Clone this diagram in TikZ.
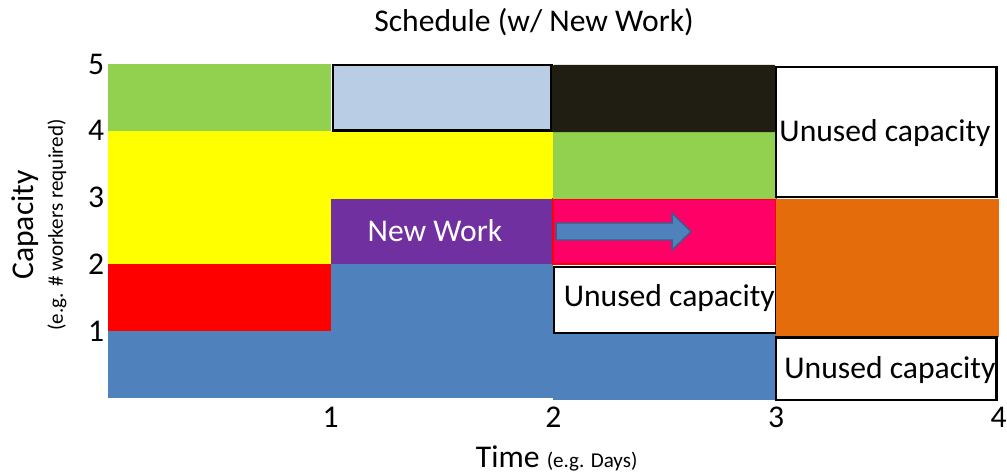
\documentclass[tikz,border=0pt]{standalone}
\usepackage{fontspec}
\setmainfont{Carlito}
\definecolor{cgreen}{HTML}{92D050}
\definecolor{cyellow}{HTML}{FFFF00}
\definecolor{cred}{HTML}{FF0000}
\definecolor{cblue}{HTML}{4F81BD}
\definecolor{clightblue}{HTML}{B9CDE5}
\definecolor{cpurple}{HTML}{7030A0}
\definecolor{cdark}{HTML}{201D12}
\definecolor{cpink}{HTML}{FF0066}
\definecolor{corange}{HTML}{E46C0A}
\definecolor{carrow}{HTML}{385D8A}
\tikzset{
  big/.style={font=\fontsize{18}{22}\selectfont},
  small/.style={font=\fontsize{12}{14}\selectfont},
  unused/.style={fill=white, draw=black, line width=1.6pt},
}
\begin{document}
\begin{tikzpicture}[x=4.454cm, y=1.336cm]
\useasboundingbox (-0.485,-1.153) rectangle (4.037,5.958);

% day 1
\fill [cblue] (0,0) rectangle (1,1);
\fill [cred] (0,1) rectangle (1,2);
\fill [cyellow] (0,2) rectangle (1,4);
\fill [cgreen] (0,4) rectangle (1,5);

% day 2
\fill [cblue] (1,0) rectangle (2,2);
\fill [cpurple] (1,2) rectangle (2,2.98);
\fill [cyellow] (1,2.98) rectangle (2,4);
\draw [fill=clightblue, line width=1.6pt] (1.01,4.0) rectangle (1.99,4.985);
\node [big, text=white] (newwork) at (1.468,2.5) {New Work};

% day 3
\fill [cblue] (2,-0.03) rectangle (3,1);
\draw [unused] (2.003,0.973) rectangle (3.0,1.96);
\node [big, anchor=west, inner sep=0pt] (unused2) at (2.045,1.497) {Unused capacity};
\draw [fill=cpink, draw=cred, line width=1.2pt] (2.0,2.0) rectangle (3.0,2.98);
\fill [cgreen] (2,2.98) rectangle (3,3.98);
\fill [cdark, rounded corners=1pt] (1.994,3.98) rectangle (3.0,4.985);
\draw [fill=cblue, draw=carrow, line width=0.8pt] (2.012,2.365) -- (2.533,2.365) -- (2.533,2.216)
  -- (2.618,2.49) -- (2.533,2.769) -- (2.533,2.62) -- (2.012,2.62) -- cycle;

% day 4
\fill [corange] (3.0,0.913) rectangle (4.0,2.98);
\draw [unused] (3.0,-0.03) rectangle (3.99,0.9);
\node [big] (unused3a) at (3.511,0.42) {Unused capacity};
\draw [unused] (3.0,3.01) rectangle (3.99,4.955);
\node [big] (unused3b) at (3.489,3.967) {Unused capacity};

% axes labels
\foreach \i in {1,...,5}
  \node [big, left, inner sep=2pt] at (0,\i) {\i};
\foreach \i in {1,...,4}
  \node [big] at (\i,-0.285) {\i};
\node [big] (title) at (1.913,5.63) {Schedule (w/ New Work)};
\node [big, rotate=90] (ylab) at (-0.373,2.59) {Capacity};
\node [small, rotate=90] (ysub) at (-0.229,2.59) {(e.g. \# workers required)};
\node [big] (xlab) at (2.015,-0.9) {Time {\fontsize{12}{14}\selectfont(e.g. Days)}};
\end{tikzpicture}
\end{document}
